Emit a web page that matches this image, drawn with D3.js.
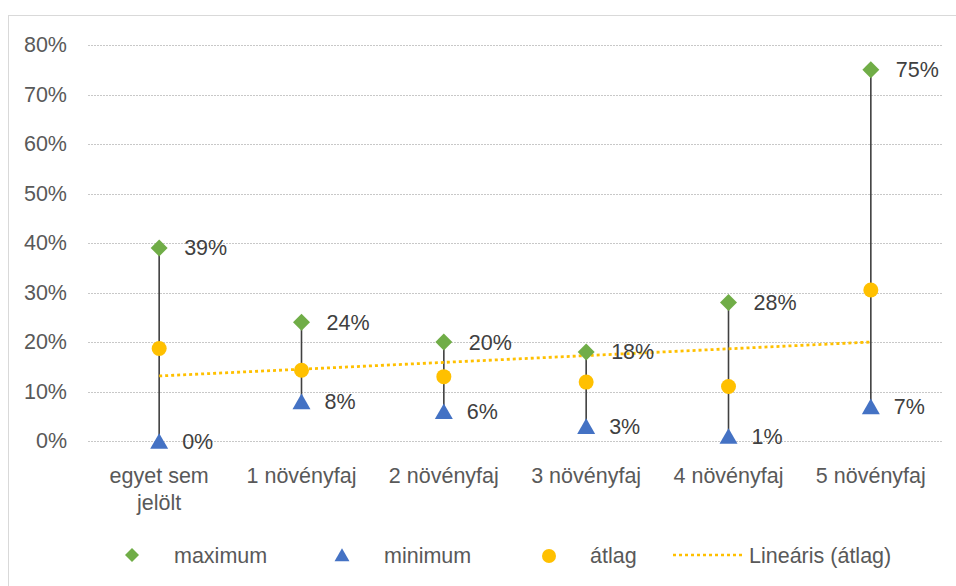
<!DOCTYPE html>
<html>
<head>
<meta charset="utf-8">
<script src="https://cdn.jsdelivr.net/npm/d3@7"></script>
<style>
  html, body { margin: 0; padding: 0; background: #fff; }
  svg { display: block; font-family: "Liberation Sans", Arial, sans-serif; }
</style>
</head>
<body>
<svg id="chart" width="956" height="586"></svg>
<script>
// Number of plant species marked: maximum, minimum and average share
const categories = [["egyet sem", "jelölt"], ["1 növényfaj"], ["2 növényfaj"], ["3 növényfaj"], ["4 növényfaj"], ["5 növényfaj"]];
const maximum = [0.39, 0.24, 0.20, 0.18, 0.28, 0.75];
const minimum = [0.00, 0.08, 0.06, 0.03, 0.01, 0.07];
const atlag   = [0.187, 0.143, 0.130, 0.119, 0.110, 0.305];
const yTicks  = [0, 0.1, 0.2, 0.3, 0.4, 0.5, 0.6, 0.7, 0.8];
const legendLabels = ["maximum", "minimum", "átlag", "Lineáris (átlag)"];

const colors = { max: "#70AD47", min: "#4472C4", avg: "#FFC000", line: "#404040" };
const FONT = "21.5px";

const svg = d3.select("#chart");
const W = 956, H = 586;
const plot = { left: 88, right: 942, top: 45, bottom: 441 };

// chart frame
svg.append("rect")
  .attr("x", 8.5).attr("y", 15.5)
  .attr("width", W + 20).attr("height", H + 20)
  .attr("fill", "none").attr("stroke", "#d9d9d9").attr("stroke-width", 1);

const keys = categories.map((c, i) => i);
const x = d3.scaleBand().domain(keys).range([plot.left, plot.right]);
const cx = i => x(i) + x.bandwidth() / 2;
const y = d3.scaleLinear().domain([0, 0.8]).range([plot.bottom, plot.top]);

// gridlines
svg.append("g").selectAll("line").data(yTicks).join("line")
  .attr("x1", plot.left).attr("x2", plot.right)
  .attr("y1", d => Math.round(y(d)) + 0.5).attr("y2", d => Math.round(y(d)) + 0.5)
  .attr("stroke", "#c8c8c8").attr("stroke-width", 1)
  .attr("stroke-dasharray", "2,1");

// y axis labels
const yAxis = d3.axisLeft(y).tickValues(yTicks).tickFormat(d3.format(".0%")).tickSize(0).tickPadding(0);
const gy = svg.append("g").attr("transform", `translate(67,0)`).call(yAxis);
gy.select(".domain").remove();
gy.selectAll("text").attr("fill", "#595959").style("font-size", FONT)
  .style("font-family", "Liberation Sans, Arial, sans-serif");

// category labels
const gx = svg.append("g");
categories.forEach((lines, i) => {
  const t = gx.append("text").attr("text-anchor", "middle").attr("fill", "#595959")
    .style("font-size", FONT);
  lines.forEach((ln, k) => {
    t.append("tspan").attr("x", cx(i)).attr("y", 483 + k * 27).text(ln);
  });
});

// high-low lines
svg.append("g").selectAll("line").data(keys).join("line")
  .attr("x1", cx).attr("x2", cx)
  .attr("y1", i => y(maximum[i])).attr("y2", i => y(minimum[i]))
  .attr("stroke", colors.line).attr("stroke-width", 1.6);

// linear trendline of the averages (least squares over category index 1..n)
const n = atlag.length;
const xs = atlag.map((d, i) => i + 1);
const mx = d3.mean(xs), my = d3.mean(atlag);
const slope = d3.sum(xs.map((xv, i) => (xv - mx) * (atlag[i] - my))) / d3.sum(xs.map(xv => (xv - mx) ** 2));
const icpt = my - slope * mx;
svg.append("line")
  .attr("x1", cx(0)).attr("x2", cx(n - 1))
  .attr("y1", y(icpt + slope * 1)).attr("y2", y(icpt + slope * n))
  .attr("stroke", colors.avg).attr("stroke-width", 2.8)
  .attr("stroke-dasharray", "3,3");

// markers
const diamond = d3.symbol().type(d3.symbolSquare).size(144);
const tri = d3.symbol().type(d3.symbolTriangle).size(140);
// vertical offset that centres the triangle's bounding box on the value
const triShift = Math.sqrt(140 * 4 / Math.sqrt(3)) * Math.sqrt(3) / 2 / 6;

svg.append("g").selectAll("circle").data(keys).join("circle")
  .attr("cx", cx).attr("cy", i => y(atlag[i])).attr("r", 7.5)
  .attr("fill", colors.avg);

svg.append("g").selectAll("path").data(keys).join("path")
  .attr("d", diamond)
  .attr("transform", i => `translate(${cx(i)},${y(maximum[i])}) rotate(45)`)
  .attr("fill", colors.max);

svg.append("g").selectAll("path").data(keys).join("path")
  .attr("d", tri)
  .attr("transform", i => `translate(${cx(i)},${y(minimum[i]) + triShift})`)
  .attr("fill", colors.min);

// data labels
const fmt = d3.format(".0%");
const labels = svg.append("g").attr("fill", "#404040").style("font-size", FONT);
keys.forEach(i => {
  labels.append("text").attr("x", cx(i) + 25).attr("y", y(maximum[i])).attr("dy", "0.35em").text(fmt(maximum[i]));
  labels.append("text").attr("x", cx(i) + 23).attr("y", y(minimum[i])).attr("dy", "0.35em").text(fmt(minimum[i]));
});

// legend
const leg = svg.append("g").attr("fill", "#595959").style("font-size", FONT);
const ly = 555;
leg.append("path").attr("d", d3.symbol().type(d3.symbolSquare).size(98))
  .attr("transform", `translate(132,${ly}) rotate(45)`).attr("fill", colors.max);
leg.append("text").attr("x", 174).attr("y", ly).attr("dy", "0.35em").text(legendLabels[0]);
leg.append("path").attr("d", d3.symbol().type(d3.symbolTriangle).size(97))
  .attr("transform", `translate(342,${ly + 2})`).attr("fill", colors.min);
leg.append("text").attr("x", 384).attr("y", ly).attr("dy", "0.35em").text(legendLabels[1]);
leg.append("circle").attr("cx", 549).attr("cy", ly + 1).attr("r", 7).attr("fill", colors.avg);
leg.append("text").attr("x", 590).attr("y", ly).attr("dy", "0.35em").text(legendLabels[2]);
leg.append("line").attr("x1", 673).attr("x2", 742).attr("y1", ly).attr("y2", ly)
  .attr("stroke", colors.avg).attr("stroke-width", 2.5).attr("stroke-dasharray", "3,3");
leg.append("text").attr("x", 749).attr("y", ly).attr("dy", "0.35em").text(legendLabels[3]);
</script>
</body>
</html>
